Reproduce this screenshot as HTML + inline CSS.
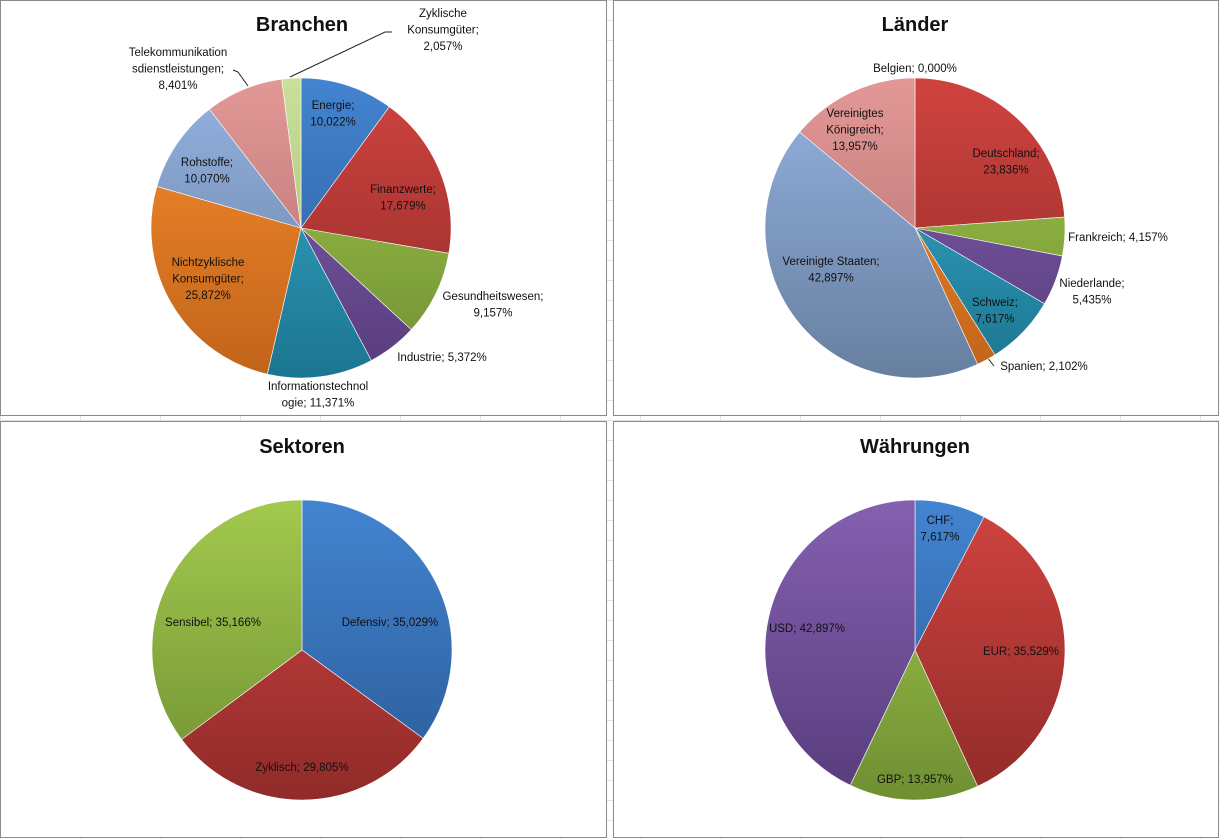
<!DOCTYPE html>
<html><head><meta charset="utf-8"><style>
body{margin:0;width:1220px;height:839px;overflow:hidden;background:#fff;
background-image:linear-gradient(#e2e2e2 1px,transparent 1px),linear-gradient(90deg,#e2e2e2 1px,transparent 1px);
background-size:80px 20px;font-family:"Liberation Sans",sans-serif}
svg{position:absolute;left:0;top:0}
text{font-family:"Liberation Sans",sans-serif;font-size:11.5px;fill:#111}
.t{font-size:20px;font-weight:bold}
</style></head><body>
<svg id="s" width="1220" height="839">
<defs id="d"></defs>
<rect x="0.5" y="0.5" width="606" height="415" fill="#fff" stroke="#8a8a8a"/>
<rect x="613.5" y="0.5" width="605" height="415" fill="#fff" stroke="#8a8a8a"/>
<rect x="0.5" y="421.5" width="606" height="416" fill="#fff" stroke="#8a8a8a"/>
<rect x="613.5" y="421.5" width="605" height="416" fill="#fff" stroke="#8a8a8a"/>
<text class="t" x="302" y="31" text-anchor="middle">Branchen</text>
<text class="t" x="915" y="31" text-anchor="middle">Länder</text>
<text class="t" x="302" y="453" text-anchor="middle">Sektoren</text>
<text class="t" x="915" y="453" text-anchor="middle">Währungen</text>
<polyline points="290,77 385,32 392,32" fill="none" stroke="#222" stroke-width="1"/>
<polyline points="233,70 238,72 248,86" fill="none" stroke="#222" stroke-width="1"/>
<polyline points="986,356 994,366" fill="none" stroke="#222" stroke-width="1"/>
<g id="g"></g>
</svg>
<script>
const branchenCats=["Energie","Finanzwerte","Gesundheitswesen","Industrie","Informationstechnologie","Nichtzyklische Konsumgüter","Rohstoffe","Telekommunikationsdienstleistungen","Zyklische Konsumgüter"];
const branchenVals=[10.022,17.679,9.157,5.372,11.371,25.872,10.070,8.401,2.057];
const laenderCats=["Deutschland","Frankreich","Niederlande","Schweiz","Spanien","Vereinigte Staaten","Vereinigtes Königreich","Belgien"];
const laenderVals=[23.836,4.157,5.435,7.617,2.102,42.897,13.957,0.000];
const sektorenCats=["Defensiv","Zyklisch","Sensibel"];
const sektorenVals=[35.029,29.805,35.166];
const waehrCats=["CHF","EUR","GBP","USD"];
const waehrVals=[7.617,35.529,13.957,42.897];

const C={blue:["#4384d0","#2a5a96"],red:["#d0433f","#902b29"],green:["#a3c94e","#6f8f32"],purple:["#8560b0","#573c7c"],
teal:["#3aaed0","#1b7590"],orange:["#f98c2e","#c0641a"],lblue:["#94b3e2","#677f9f"],pink:["#e39896","#ad6d6c"],lgreen:["#c9e09a","#a3ba72"]};
const fmt=v=>v.toFixed(3).replace(".",",")+"%";
const svg=document.getElementById("g"),defs=document.getElementById("d"),NS="http://www.w3.org/2000/svg";
let gid=0;
function grad(c,cy,r){const id="gr"+(gid++);const g=document.createElementNS(NS,"linearGradient");
g.setAttribute("id",id);g.setAttribute("gradientUnits","userSpaceOnUse");g.setAttribute("x1",0);g.setAttribute("x2",0);
g.setAttribute("y1",cy-r);g.setAttribute("y2",cy+r);
g.innerHTML=`<stop offset="0" stop-color="${C[c][0]}"/><stop offset="1" stop-color="${C[c][1]}"/>`;defs.appendChild(g);return id;}
function pie(name,cats,vals,colors,cx,cy,r,labels){
 const tot=vals.reduce((a,b)=>a+b,0);let a0=0;
 vals.forEach((v,i)=>{const a1=a0+v/tot*2*Math.PI;
  if(v>0){const p=document.createElementNS(NS,"path");
  const x0=cx+r*Math.sin(a0),y0=cy-r*Math.cos(a0),x1=cx+r*Math.sin(a1),y1=cy-r*Math.cos(a1);
  p.setAttribute("d",`M${cx},${cy}L${x0},${y0}A${r},${r} 0 ${a1-a0>Math.PI?1:0} 1 ${x1},${y1}Z`);
  p.setAttribute("fill",`url(#${grad(colors[i],cy,r)})`);p.setAttribute("stroke","#fff");p.setAttribute("stroke-width","0.6");
  
  
  svg.appendChild(p);}
  a0=a1;});
 vals.forEach((v,i)=>{const L=labels[i];const t=document.createElementNS(NS,"text");
  t.setAttribute("text-anchor","middle");
  const lines=L[2].map(s=>s.replace("#",fmt(v)));
  lines.forEach((s,k)=>{const ts=document.createElementNS(NS,"tspan");ts.setAttribute("x",L[0]);ts.setAttribute("y",L[1]+k*16.5+4);ts.textContent=s;t.appendChild(ts);});
  
  
  svg.appendChild(t);});
}
pie("branchen",branchenCats,branchenVals,["blue","red","green","purple","teal","orange","lblue","pink","lgreen"],301,228,150,[
 [333,105,["Energie;","#"]],[403,189,["Finanzwerte;","#"]],[493,296,["Gesundheitswesen;","#"]],[442,357,["Industrie; #"]],
 [318,386,["Informationstechnol","ogie; #"]],[208,262,["Nichtzyklische","Konsumgüter;","#"]],[207,162,["Rohstoffe;","#"]],
 [178,52,["Telekommunikation","sdienstleistungen;","#"]],[443,13,["Zyklische","Konsumgüter;","#"]]]);
pie("laender",laenderCats,laenderVals,["red","green","purple","teal","orange","lblue","pink","blue"],915,228,150,[
 [1006,153,["Deutschland;","#"]],[1118,237,["Frankreich; #"]],[1092,283,["Niederlande;","#"]],[995,302,["Schweiz;","#"]],
 [1044,366,["Spanien; #"]],[831,261,["Vereinigte Staaten;","#"]],[855,113,["Vereinigtes","Königreich;","#"]],[915,68,["Belgien; #"]]]);
pie("sektoren",sektorenCats,sektorenVals,["blue","red","green"],302,650,150,[
 [390,622,["Defensiv; #"]],[302,767,["Zyklisch; #"]],[213,622,["Sensibel; #"]]]);
pie("waehrungen",waehrCats,waehrVals,["blue","red","green","purple"],915,650,150,[
 [940,520,["CHF;","#"]],[1021,651,["EUR; #"]],[915,779,["GBP; #"]],[807,628,["USD; #"]]]);
</script>
</body></html>
